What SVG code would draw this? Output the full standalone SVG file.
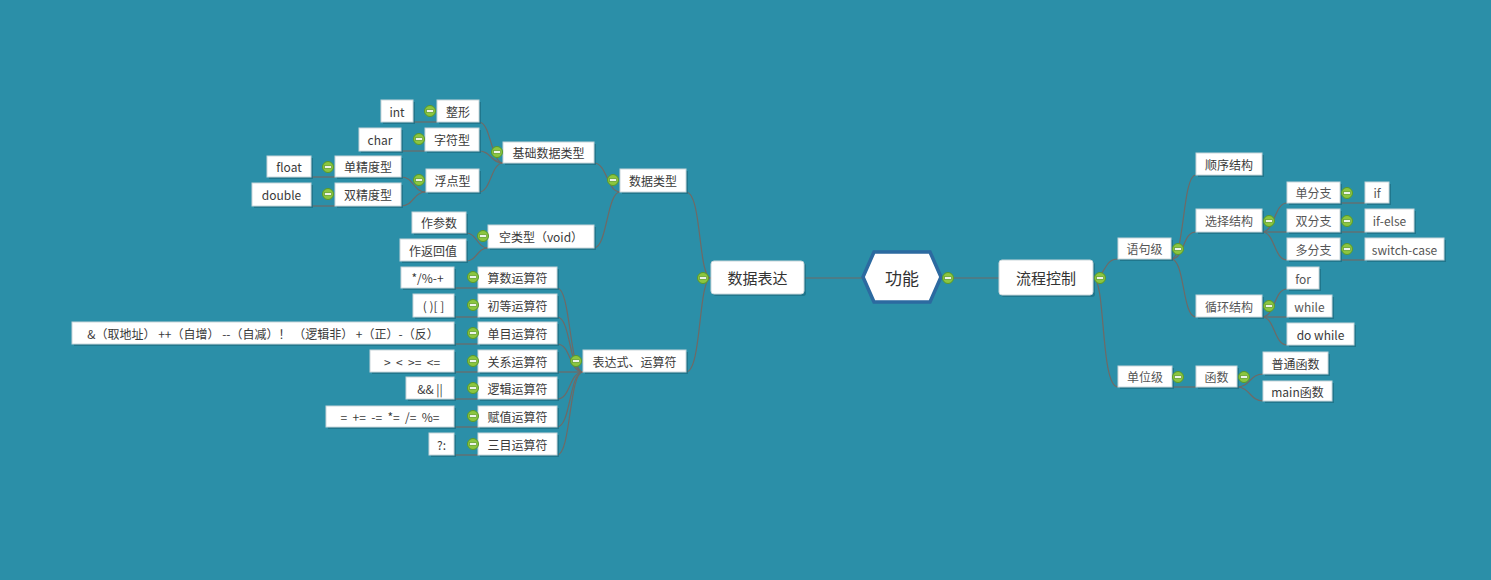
<svg xmlns="http://www.w3.org/2000/svg" xmlns:xlink="http://www.w3.org/1999/xlink" width="1491" height="580" viewBox="0 0 1491 580">
<style>
.bg{fill:#2b8fa8}
.sh{fill:#1e6f84;opacity:0.8}
.bx{fill:#ffffff;stroke:#c9d6da;stroke-width:1}
.t{font-family:"Noto Sans CJK SC","Microsoft YaHei","Liberation Sans",sans-serif;font-size:12px;fill:#3a3a3a;text-anchor:middle;dominant-baseline:central}
.tr{fill:#555555}
.tb{font-size:15px;fill:#333333}
.tc{font-size:17px;fill:#333333}
.c{fill:none;stroke:#6f6a66;stroke-width:1.2}
</style>
<defs>
<g id="tog">
<circle cx="0" cy="0" r="5.5" fill="#8cc63f" stroke="#5a9a28" stroke-width="1"/>
<rect x="-3.5" y="-1.2" width="7" height="2.4" fill="#ffffff" stroke="#4d8a20" stroke-width="0.6"/>
</g>
</defs>
<rect class="bg" x="0" y="0" width="1491" height="580"/>

<g id="connectors">
<path class="c" d="M413,122 L437,122"/>
<path class="c" d="M401,151 L425,151"/>
<path class="c" d="M479,122 C491,122 491,163 503,163"/>
<path class="c" d="M479,151 C491,151 491,163 503,163"/>
<path class="c" d="M479,192 C491,192 491,163 503,163"/>
<path class="c" d="M311,177 L335,177"/>
<path class="c" d="M311,206 L335,206"/>
<path class="c" d="M401,177 C414,177 413,192 426,192"/>
<path class="c" d="M401,206 C414,206 413,192 426,192"/>
<path class="c" d="M594,163 C607,163 607,192 620,192"/>
<path class="c" d="M594,248 C607,248 607,192 620,192"/>
<path class="c" d="M466,233 C477,233 477,248 488,248"/>
<path class="c" d="M466,261 C477,261 477,248 488,248"/>
<path class="c" d="M686,192 C702,192 698,278 711,278"/>
<path class="c" d="M686,372 C702,372 698,278 711,278"/>
<path class="c" d="M454,288 L478,288"/>
<path class="c" d="M454,317 L478,317"/>
<path class="c" d="M454,344 L478,344"/>
<path class="c" d="M454,372 L478,372"/>
<path class="c" d="M454,399 L478,399"/>
<path class="c" d="M454,427 L478,427"/>
<path class="c" d="M454,455 L478,455"/>
<path class="c" d="M557,288 C571,288 569,372 583,372"/>
<path class="c" d="M557,317 C571,317 569,372 583,372"/>
<path class="c" d="M557,344 C571,344 569,372 583,372"/>
<path class="c" d="M557,372 L583,372"/>
<path class="c" d="M557,399 C571,399 569,372 583,372"/>
<path class="c" d="M557,427 C571,427 569,372 583,372"/>
<path class="c" d="M557,455 C571,455 569,372 583,372"/>
<path class="c" d="M804,278 L862,278"/>
<path class="c" d="M942,278 L999,278"/>
<path class="c" d="M1093,278 C1106,278 1103,259 1118,259"/>
<path class="c" d="M1093,278 C1106,278 1100,387 1118,387"/>
<path class="c" d="M1171,259 C1185,259 1182,175 1196,175"/>
<path class="c" d="M1171,259 C1185,259 1182,232 1196,232"/>
<path class="c" d="M1171,259 C1185,259 1182,317 1196,317"/>
<path class="c" d="M1262,232 C1275,232 1274,203 1287,203"/>
<path class="c" d="M1262,232 L1287,232"/>
<path class="c" d="M1262,232 C1275,232 1274,260 1287,260"/>
<path class="c" d="M1340,203 L1365,203"/>
<path class="c" d="M1340,232 L1365,232"/>
<path class="c" d="M1340,260 L1365,260"/>
<path class="c" d="M1262,317 C1275,317 1274,289 1287,289"/>
<path class="c" d="M1262,317 L1287,317"/>
<path class="c" d="M1262,317 C1275,317 1274,345 1287,345"/>
<path class="c" d="M1172,387 L1196,387"/>
<path class="c" d="M1237,387 C1250,387 1250,374 1263,374"/>
<path class="c" d="M1237,387 C1250,387 1250,401 1263,401"/>
</g>

<g id="n-int"><rect class="sh" x="383" y="102" width="32" height="22"/><rect class="bx" x="381" y="100" width="32" height="22"/><text class="t" x="397" y="111">int</text></g>
<g id="n-zhengxing"><rect class="sh" x="439" y="102" width="42" height="22"/><rect class="bx" x="437" y="100" width="42" height="22"/><text class="t" x="458" y="111">整形</text><use xlink:href="#tog" x="430" y="111"/></g>
<g id="n-char"><rect class="sh" x="361" y="130" width="42" height="23"/><rect class="bx" x="359" y="128" width="42" height="23"/><text class="t" x="380" y="139.5">char</text></g>
<g id="n-zifu"><rect class="sh" x="427" y="130" width="54" height="23"/><rect class="bx" x="425" y="128" width="54" height="23"/><text class="t" x="452" y="139.5">字符型</text><use xlink:href="#tog" x="419" y="139"/></g>
<g id="n-jichu"><rect class="sh" x="505" y="144" width="91" height="21"/><rect class="bx" x="503" y="142" width="91" height="21"/><text class="t" x="548.5" y="152.5">基础数据类型</text><use xlink:href="#tog" x="497" y="152"/></g>
<g id="n-float"><rect class="sh" x="269" y="158" width="44" height="21"/><rect class="bx" x="267" y="156" width="44" height="21"/><text class="t" x="289" y="166.5">float</text></g>
<g id="n-danjing"><rect class="sh" x="337" y="158" width="66" height="21"/><rect class="bx" x="335" y="156" width="66" height="21"/><text class="t" x="368" y="166.5">单精度型</text><use xlink:href="#tog" x="328" y="167"/></g>
<g id="n-double"><rect class="sh" x="254" y="185" width="59" height="23"/><rect class="bx" x="252" y="183" width="59" height="23"/><text class="t" x="281.5" y="194.5">double</text></g>
<g id="n-shuangjing"><rect class="sh" x="337" y="185" width="66" height="23"/><rect class="bx" x="335" y="183" width="66" height="23"/><text class="t" x="368" y="194.5">双精度型</text><use xlink:href="#tog" x="328" y="194"/></g>
<g id="n-fudian"><rect class="sh" x="428" y="171" width="53" height="23"/><rect class="bx" x="426" y="169" width="53" height="23"/><text class="t" x="452.5" y="180.5">浮点型</text><use xlink:href="#tog" x="419" y="180"/></g>
<g id="n-shujuleixing"><rect class="sh" x="622" y="171" width="66" height="23"/><rect class="bx" x="620" y="169" width="66" height="23"/><text class="t" x="653" y="180.5">数据类型</text><use xlink:href="#tog" x="613" y="180"/></g>
<g id="n-zuocanshu"><rect class="sh" x="414" y="214" width="54" height="21"/><rect class="bx" x="412" y="212" width="54" height="21"/><text class="t" x="439" y="222.5">作参数</text></g>
<g id="n-zuofanhui"><rect class="sh" x="402" y="241" width="66" height="22"/><rect class="bx" x="400" y="239" width="66" height="22"/><text class="t" x="433" y="250">作返回值</text></g>
<g id="n-void"><rect class="sh" x="490" y="227" width="106" height="23"/><rect class="bx" x="488" y="225" width="106" height="23"/><text class="t" x="541" y="236.5">空类型（void）</text><use xlink:href="#tog" x="483" y="236"/></g>

<g id="n-suanshu-v"><rect class="sh" x="403" y="269" width="53" height="21"/><rect class="bx" x="401" y="267" width="53" height="21"/><text class="t" x="427.5" y="277.5">*/%-+</text></g>
<g id="n-suanshu"><rect class="sh" x="480" y="269" width="79" height="21"/><rect class="bx" x="478" y="267" width="79" height="21"/><text class="t" x="517.5" y="277.5">算数运算符</text><use xlink:href="#tog" x="473" y="277"/></g>
<g id="n-chudeng-v"><rect class="sh" x="415" y="296" width="41" height="23"/><rect class="bx" x="413" y="294" width="41" height="23"/><text class="t" x="433.5" y="305.5">( )[ ]</text></g>
<g id="n-chudeng"><rect class="sh" x="480" y="296" width="79" height="23"/><rect class="bx" x="478" y="294" width="79" height="23"/><text class="t" x="517.5" y="305.5">初等运算符</text><use xlink:href="#tog" x="473" y="305"/></g>
<g id="n-danmu-v"><rect class="sh" x="74" y="324" width="382" height="22"/><rect class="bx" x="72" y="322" width="382" height="22"/><text class="t" x="263" y="333" xml:space="preserve">&amp;（取地址） ++（自增） --（自减）！ （逻辑非） +（正）-（反）</text></g>
<g id="n-danmu"><rect class="sh" x="480" y="324" width="79" height="22"/><rect class="bx" x="478" y="322" width="79" height="22"/><text class="t" x="517.5" y="333">单目运算符</text><use xlink:href="#tog" x="473" y="333"/></g>
<g id="n-guanxi-v"><rect class="sh" x="372" y="352" width="84" height="22"/><rect class="bx" x="370" y="350" width="84" height="22"/><text class="t" x="412" y="361" xml:space="preserve">&gt;  &lt;  &gt;=  &lt;=</text></g>
<g id="n-guanxi"><rect class="sh" x="480" y="352" width="79" height="22"/><rect class="bx" x="478" y="350" width="79" height="22"/><text class="t" x="517.5" y="361">关系运算符</text><use xlink:href="#tog" x="473" y="361"/></g>
<g id="n-luoji-v"><rect class="sh" x="408" y="379" width="48" height="22"/><rect class="bx" x="406" y="377" width="48" height="22"/><text class="t" x="430" y="388">&amp;&amp; ||</text></g>
<g id="n-luoji"><rect class="sh" x="480" y="379" width="79" height="22"/><rect class="bx" x="478" y="377" width="79" height="22"/><text class="t" x="517.5" y="388">逻辑运算符</text><use xlink:href="#tog" x="473" y="388"/></g>
<g id="n-fuzhi-v"><rect class="sh" x="328" y="408" width="128" height="21"/><rect class="bx" x="326" y="406" width="128" height="21"/><text class="t" x="390" y="416.5" xml:space="preserve">=  +=  -=  *=  /=  %=</text></g>
<g id="n-fuzhi"><rect class="sh" x="480" y="408" width="79" height="21"/><rect class="bx" x="478" y="406" width="79" height="21"/><text class="t" x="517.5" y="416.5">赋值运算符</text><use xlink:href="#tog" x="473" y="416"/></g>
<g id="n-sanmu-v"><rect class="sh" x="431" y="435" width="25" height="22"/><rect class="bx" x="429" y="433" width="25" height="22"/><text class="t" x="441.5" y="444">?:</text></g>
<g id="n-sanmu"><rect class="sh" x="480" y="435" width="79" height="22"/><rect class="bx" x="478" y="433" width="79" height="22"/><text class="t" x="517.5" y="444">三目运算符</text><use xlink:href="#tog" x="473" y="444"/></g>
<g id="n-biaodashi"><rect class="sh" x="585" y="352" width="103" height="22"/><rect class="bx" x="583" y="350" width="103" height="22"/><text class="t" x="634.5" y="361">表达式、运算符</text><use xlink:href="#tog" x="576" y="361"/></g>

<g id="n-shujubiaoda"><rect class="sh" x="713" y="263" width="93" height="33" rx="3"/><rect class="bx" x="711" y="261" width="93" height="33" rx="3"/><text class="t tb" x="757.5" y="277.5">数据表达</text><use xlink:href="#tog" x="703" y="278"/></g>
<g id="n-gongneng"><polygon points="863,277 874,252 930,252 941,277 930,302 874,302" fill="#ffffff" stroke="#2c6aa0" stroke-width="3.5" stroke-linejoin="miter"/><text class="t tc" x="902" y="277.5">功能</text><use xlink:href="#tog" x="948" y="278"/></g>
<g id="n-liucheng"><rect class="sh" x="1001" y="262" width="94" height="35" rx="3"/><rect class="bx" x="999" y="260" width="94" height="35" rx="3"/><text class="t tb tr" x="1046" y="277.5">流程控制</text><use xlink:href="#tog" x="1100" y="278"/></g>

<g id="n-yujuji"><rect class="sh" x="1120" y="240" width="53" height="21"/><rect class="bx" x="1118" y="238" width="53" height="21"/><text class="t tr" x="1144.5" y="248.5">语句级</text><use xlink:href="#tog" x="1178" y="249"/></g>
<g id="n-shunxu"><rect class="sh" x="1198" y="155" width="66" height="22"/><rect class="bx" x="1196" y="153" width="66" height="22"/><text class="t" x="1229" y="164">顺序结构</text></g>
<g id="n-xuanze"><rect class="sh" x="1198" y="211" width="66" height="23"/><rect class="bx" x="1196" y="209" width="66" height="23"/><text class="t tr" x="1229" y="220.5">选择结构</text><use xlink:href="#tog" x="1269" y="221"/></g>
<g id="n-danfenzhi"><rect class="sh" x="1289" y="184" width="53" height="21"/><rect class="bx" x="1287" y="182" width="53" height="21"/><text class="t tr" x="1313.5" y="192.5">单分支</text><use xlink:href="#tog" x="1347" y="193"/></g>
<g id="n-if"><rect class="sh" x="1367" y="184" width="24" height="21"/><rect class="bx" x="1365" y="182" width="24" height="21"/><text class="t tr" x="1377" y="192.5">if</text></g>
<g id="n-shuangfenzhi"><rect class="sh" x="1289" y="211" width="53" height="23"/><rect class="bx" x="1287" y="209" width="53" height="23"/><text class="t tr" x="1313.5" y="220.5">双分支</text><use xlink:href="#tog" x="1347" y="221"/></g>
<g id="n-ifelse"><rect class="sh" x="1367" y="211" width="49" height="23"/><rect class="bx" x="1365" y="209" width="49" height="23"/><text class="t tr" x="1389.5" y="220.5">if-else</text></g>
<g id="n-duofenzhi"><rect class="sh" x="1289" y="240" width="53" height="22"/><rect class="bx" x="1287" y="238" width="53" height="22"/><text class="t tr" x="1313.5" y="249">多分支</text><use xlink:href="#tog" x="1347" y="249"/></g>
<g id="n-switch"><rect class="sh" x="1367" y="240" width="79" height="22"/><rect class="bx" x="1365" y="238" width="79" height="22"/><text class="t tr" x="1404.5" y="249">switch-case</text></g>
<g id="n-xunhuan"><rect class="sh" x="1198" y="297" width="66" height="22"/><rect class="bx" x="1196" y="295" width="66" height="22"/><text class="t tr" x="1229" y="306">循环结构</text><use xlink:href="#tog" x="1269" y="306"/></g>
<g id="n-for"><rect class="sh" x="1289" y="269" width="32" height="22"/><rect class="bx" x="1287" y="267" width="32" height="22"/><text class="t tr" x="1303" y="278">for</text></g>
<g id="n-while"><rect class="sh" x="1289" y="297" width="45" height="22"/><rect class="bx" x="1287" y="295" width="45" height="22"/><text class="t tr" x="1309.5" y="306">while</text></g>
<g id="n-dowhile"><rect class="sh" x="1289" y="325" width="67" height="22"/><rect class="bx" x="1287" y="323" width="67" height="22"/><text class="t" x="1320.5" y="334">do while</text></g>
<g id="n-danweiji"><rect class="sh" x="1120" y="368" width="54" height="21"/><rect class="bx" x="1118" y="366" width="54" height="21"/><text class="t tr" x="1145" y="376.5">单位级</text><use xlink:href="#tog" x="1178" y="377"/></g>
<g id="n-hanshu"><rect class="sh" x="1198" y="368" width="41" height="21"/><rect class="bx" x="1196" y="366" width="41" height="21"/><text class="t tr" x="1216.5" y="376.5">函数</text><use xlink:href="#tog" x="1244" y="377"/></g>
<g id="n-putong"><rect class="sh" x="1265" y="354" width="65" height="22"/><rect class="bx" x="1263" y="352" width="65" height="22"/><text class="t" x="1295.5" y="363">普通函数</text></g>
<g id="n-main"><rect class="sh" x="1265" y="383" width="69" height="20"/><rect class="bx" x="1263" y="381" width="69" height="20"/><text class="t" x="1297.5" y="391">main函数</text></g>
</svg>
